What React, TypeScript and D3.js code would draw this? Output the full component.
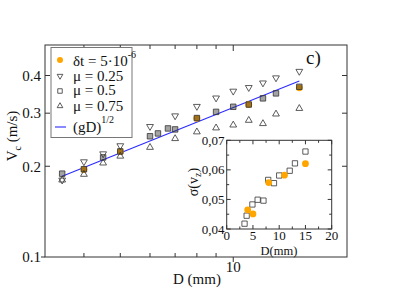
import React, { useEffect, useRef } from 'react';
import * as d3 from 'd3';

// main plot: critical velocity vs grain diameter
const muLowD = [3.5, 4, 4.5, 5, 6, 7, 8, 9, 10, 11, 12, 13, 15];
const muLowV = [0.180, 0.207, 0.220, 0.234, 0.271, 0.294, 0.316, 0.337, 0.355, 0.365, 0.378, 0.393, 0.413];
const muMidD = [3.5, 4, 4.5, 5, 6, 6.3, 6.7, 7, 8, 9, 10, 11, 12, 13, 15];
const muMidV = [0.189, 0.1955, 0.214, 0.224, 0.2515, 0.257, 0.267, 0.265, 0.289, 0.303, 0.315, 0.3205, 0.336, 0.349, 0.367];
const muHighD = [3.5, 4, 4.5, 5, 6, 7, 8, 9, 10, 11, 12, 13, 15];
const muHighV = [0.180, 0.188, 0.205, 0.216, 0.231, 0.247, 0.260, 0.268, 0.274, 0.284, 0.277, 0.298, 0.311];
const dtD = [4, 5, 8, 11, 15];
const dtV = [0.195, 0.2235, 0.2885, 0.3205, 0.364];
const fitD = [3.5, 15];
const fitV = [0.1853, 0.3836];
const yTickVals = [0.2, 0.3, 0.4];
const yTickLabels = ['0.2', '0.3', '0.4'];
const xMinorTicks = [4, 5, 6, 7, 8, 9];

// inset: sigma(v_z) vs D
const insetSqD = [3.4, 3.8, 4.9, 5.9, 7, 7.9, 9, 10, 12, 13, 15];
const insetSqS = [0.0418, 0.0445, 0.0483, 0.0499, 0.0496, 0.0566, 0.0555, 0.0581, 0.0597, 0.0622, 0.0662];
const insetDtD = [4, 5, 8, 11, 15];
const insetDtS = [0.0465, 0.0451, 0.0557, 0.0582, 0.0621];
const insetXTicks = [0, 5, 10, 15, 20];
const insetYTicks = [0.04, 0.05, 0.06, 0.07];
const insetYLabels = ['0,04', '0,05', '0,06', '0,07'];

const FONT = "'Liberation Serif', 'Times New Roman', serif";
const ORANGE = '#ffa500';
const INK = '#333';

const App = () => {
  const ref = useRef(null);

  useEffect(() => {
    const svg = d3.select(ref.current);
    svg.selectAll('*').remove();

    const x = d3.scaleLog().domain([3.15, 20.1]).range([45, 347]);
    const y = d3.scaleLog().domain([0.1, 0.505]).range([257, 45]);
    const [x0, x1] = x.range();
    const [y0, y1] = y.range();

    const tri = d3.symbol().type(d3.symbolTriangle).size(20)();
    const sq = d3.symbol().type(d3.symbolSquare).size(30)();

    // fit line (gD)^1/2
    svg.append('path')
      .datum(fitD.map((d, i) => [d, fitV[i]]))
      .attr('d', d3.line().x(d => x(d[0])).y(d => y(d[1])))
      .attr('fill', 'none')
      .attr('stroke', '#2b2bff')
      .attr('stroke-width', 1.1);

    // orange dt points, under the squares
    svg.append('g').selectAll('circle')
      .data(dtD)
      .join('circle')
      .attr('cx', d => x(d))
      .attr('cy', (d, i) => y(dtV[i]))
      .attr('r', 3.4)
      .attr('fill', ORANGE);

    svg.append('g').selectAll('path')
      .data(muLowD)
      .join('path')
      .attr('d', tri)
      .attr('transform', (d, i) => `translate(${x(d)},${y(muLowV[i])}) rotate(180)`)
      .attr('fill', 'none')
      .attr('stroke', INK)
      .attr('stroke-width', 0.8);

    svg.append('g').selectAll('path')
      .data(muHighD)
      .join('path')
      .attr('d', tri)
      .attr('transform', (d, i) => `translate(${x(d)},${y(muHighV[i])})`)
      .attr('fill', 'none')
      .attr('stroke', INK)
      .attr('stroke-width', 0.8);

    svg.append('g').selectAll('path')
      .data(muMidD)
      .join('path')
      .attr('d', sq)
      .attr('transform', (d, i) => `translate(${x(d)},${y(muMidV[i])})`)
      .attr('fill', '#333')
      .attr('fill-opacity', 0.45)
      .attr('stroke', INK)
      .attr('stroke-width', 0.8);

    // frame and ticks
    svg.append('rect')
      .attr('x', x0).attr('y', y1)
      .attr('width', x1 - x0).attr('height', y0 - y1)
      .attr('fill', 'none').attr('stroke', INK).attr('stroke-width', 1);

    const ticks = svg.append('g').attr('stroke', INK).attr('stroke-width', 1);
    xMinorTicks.forEach(t => {
      ticks.append('line').attr('x1', x(t)).attr('x2', x(t)).attr('y1', y0).attr('y2', y0 - 4);
      ticks.append('line').attr('x1', x(t)).attr('x2', x(t)).attr('y1', y1).attr('y2', y1 + 4);
    });
    ticks.append('line').attr('x1', x(10)).attr('x2', x(10)).attr('y1', y0).attr('y2', y0 + 5);
    ticks.append('line').attr('x1', x(10)).attr('x2', x(10)).attr('y1', y1).attr('y2', y1 + 6);
    yTickVals.forEach(t => {
      ticks.append('line').attr('x1', x0).attr('x2', x0 + 5).attr('y1', y(t)).attr('y2', y(t));
      ticks.append('line').attr('x1', x1).attr('x2', x1 - 5).attr('y1', y(t)).attr('y2', y(t));
    });
    ticks.append('line').attr('x1', x0 - 4).attr('x2', x0).attr('y1', y(0.1)).attr('y2', y(0.1));

    const labels = svg.append('g').attr('font-family', FONT).attr('fill', '#111');
    yTickVals.forEach((t, i) => {
      labels.append('text').attr('x', 41).attr('y', y(t)).attr('dy', '0.35em')
        .attr('text-anchor', 'end').attr('font-size', 15).text(yTickLabels[i]);
    });
    labels.append('text').attr('x', 41).attr('y', y(0.1)).attr('dy', '0.35em')
      .attr('text-anchor', 'end').attr('font-size', 15).text('0.1');
    labels.append('text').attr('x', x(10)).attr('y', 272)
      .attr('text-anchor', 'middle').attr('font-size', 15).text('10');
    labels.append('text').attr('x', 197).attr('y', 284)
      .attr('text-anchor', 'middle').attr('font-size', 15).text('D (mm)');

    const yl = labels.append('text')
      .attr('transform', 'translate(17,136) rotate(-90)')
      .attr('text-anchor', 'middle').attr('font-size', 15);
    yl.append('tspan').text('V');
    yl.append('tspan').attr('dy', 4).attr('font-size', 10).text('c');
    yl.append('tspan').attr('dy', -4).text(' (m/s)');

    labels.append('text').attr('x', 306).attr('y', 64).attr('font-size', 19).text('c)');

    // legend
    const lg = svg.append('g').attr('font-family', FONT).attr('fill', '#111');
    lg.append('rect')
      .attr('x', 51).attr('y', 47.5).attr('width', 81).attr('height', 90)
      .attr('fill', 'white').attr('stroke', '#777').attr('stroke-width', 1);
    const rows = [60, 76, 91, 106, 127];
    lg.append('circle').attr('cx', 60).attr('cy', rows[0]).attr('r', 3).attr('fill', ORANGE);
    lg.append('path').attr('d', d3.symbol().type(d3.symbolTriangle).size(14)())
      .attr('transform', `translate(60,${rows[1]}) rotate(180)`)
      .attr('fill', 'none').attr('stroke', INK).attr('stroke-width', 0.8);
    lg.append('path').attr('d', d3.symbol().type(d3.symbolSquare).size(20)())
      .attr('transform', `translate(60,${rows[2]})`)
      .attr('fill', 'none').attr('stroke', INK).attr('stroke-width', 0.8);
    lg.append('path').attr('d', d3.symbol().type(d3.symbolTriangle).size(14)())
      .attr('transform', `translate(60,${rows[3]})`)
      .attr('fill', 'none').attr('stroke', INK).attr('stroke-width', 0.8);
    lg.append('line').attr('x1', 55).attr('x2', 66).attr('y1', rows[4]).attr('y2', rows[4])
      .attr('stroke', '#2b2bff').attr('stroke-width', 1.1);

    const t0 = lg.append('text').attr('x', 73).attr('y', 66).attr('font-size', 15);
    t0.append('tspan').text('δt = 5·10');
    t0.append('tspan').attr('dy', -8).attr('font-size', 10).text('-6');
    lg.append('text').attr('x', 73).attr('y', 80.5).attr('font-size', 15).text('μ = 0.25');
    lg.append('text').attr('x', 73).attr('y', 95).attr('font-size', 15).text('μ = 0.5');
    lg.append('text').attr('x', 73).attr('y', 110.5).attr('font-size', 15).text('μ = 0.75');
    const t4 = lg.append('text').attr('x', 73).attr('y', 131.5).attr('font-size', 15);
    t4.append('tspan').text('(gD)');
    t4.append('tspan').attr('dy', -9).attr('font-size', 10).text('1/2');

    // inset
    const xi = d3.scaleLinear().domain([0, 20]).range([226.7, 331.7]);
    const yi = d3.scaleLinear().domain([0.04, 0.07]).range([229, 140.3]);
    const ins = svg.append('g');
    ins.append('rect')
      .attr('x', xi(0)).attr('y', yi(0.07))
      .attr('width', xi(20) - xi(0)).attr('height', yi(0.04) - yi(0.07))
      .attr('fill', 'white').attr('stroke', INK).attr('stroke-width', 1);

    const it = ins.append('g').attr('stroke', INK).attr('stroke-width', 1);
    d3.range(0, 20.01, 2.5).forEach(t => {
      const len = t % 5 === 0 ? 4 : 2.5;
      it.append('line').attr('x1', xi(t)).attr('x2', xi(t)).attr('y1', yi(0.04)).attr('y2', yi(0.04) - len);
      it.append('line').attr('x1', xi(t)).attr('x2', xi(t)).attr('y1', yi(0.07)).attr('y2', yi(0.07) + len);
    });
    d3.range(0.04, 0.0701, 0.005).forEach((t, i) => {
      const len = i % 2 === 0 ? 4 : 2.5;
      it.append('line').attr('x1', xi(0)).attr('x2', xi(0) + len).attr('y1', yi(t)).attr('y2', yi(t));
      it.append('line').attr('x1', xi(20)).attr('x2', xi(20) - len).attr('y1', yi(t)).attr('y2', yi(t));
    });

    ins.append('g').selectAll('path')
      .data(insetSqD)
      .join('path')
      .attr('d', d3.symbol().type(d3.symbolSquare).size(28)())
      .attr('transform', (d, i) => `translate(${xi(d)},${yi(insetSqS[i])})`)
      .attr('fill', 'white')
      .attr('stroke', INK)
      .attr('stroke-width', 0.8);

    ins.append('g').selectAll('circle')
      .data(insetDtD)
      .join('circle')
      .attr('cx', d => xi(d))
      .attr('cy', (d, i) => yi(insetDtS[i]))
      .attr('r', 3.4)
      .attr('fill', ORANGE);

    const il = ins.append('g').attr('font-family', FONT).attr('fill', '#111').attr('font-size', 13);
    insetXTicks.forEach(t => {
      il.append('text').attr('x', xi(t)).attr('y', 240).attr('text-anchor', 'middle').text(t);
    });
    insetYTicks.forEach((t, i) => {
      il.append('text').attr('x', 224.5).attr('y', yi(t)).attr('dy', '0.35em')
        .attr('text-anchor', 'end').text(insetYLabels[i]);
    });
    il.append('text').attr('x', 279).attr('y', 254.5).attr('text-anchor', 'middle')
      .attr('font-size', 12.5).text('D(mm)');
    const sl = il.append('text')
      .attr('transform', 'translate(198,182) rotate(-90)')
      .attr('text-anchor', 'middle').attr('font-size', 14);
    sl.append('tspan').text('σ(v');
    sl.append('tspan').attr('dy', 3).attr('font-size', 10).text('z');
    sl.append('tspan').attr('dy', -3).text(')');
  }, []);

  return (
    <svg
      ref={ref}
      width={415}
      height={294}
      style={{ position: 'absolute', left: 0, top: 0, background: 'white' }}
    />
  );
};

export default App;
